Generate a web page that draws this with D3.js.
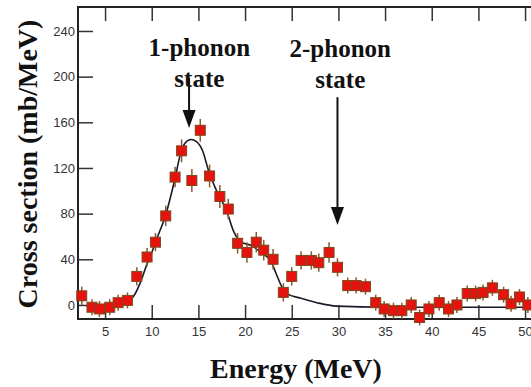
<!DOCTYPE html>
<html>
<head>
<meta charset="utf-8">
<script src="https://cdn.jsdelivr.net/npm/d3@7"></script>
<style>
  html, body { margin: 0; padding: 0; background: #fff; }
  svg { display: block; }
</style>
</head>
<body>
<svg id="chart" width="531" height="387"></svg>
<script>
// ---- data ----
const energies = [2.5, 3.6, 4.4, 5.5, 6.4, 7.4, 8.4, 9.5, 10.4, 11.5, 12.5, 13.2, 14.3, 15.2, 16.2, 17.3, 18.2, 19.2, 20.2, 21.2, 22.0, 23.0, 24.1, 25.0, 26.0, 27.1, 27.9, 29.0, 29.9, 31.0, 31.9, 32.9, 34.0, 34.9, 35.9, 36.8, 37.8, 38.7, 39.7, 40.8, 41.8, 42.7, 43.8, 44.7, 45.5, 46.5, 47.7, 48.5, 49.4, 50.3];
const crossSection = [8, -2, -3.5, -2, 2, 4, 25, 42, 55, 78, 112, 135, 109, 153, 113, 95, 84, 54, 46, 55, 48, 40, 11, 25, 39, 39, 37, 46, 33, 17, 17, 16, 2, -3.5, -5, -5, 0, -11, -3.5, 2, -3.5, 0, 10, 10, 11, 15, 9, 1, 7, 0];
const errors = [8, 7, 7, 7, 7, 7, 8, 8, 8, 9, 9, 10, 10, 10, 10, 10, 9, 9, 9, 9, 9, 9, 8, 8, 8, 8, 8, 9, 8, 7, 7, 7, 7, 7, 7, 7, 7, 7, 7, 7, 7, 7, 7, 7, 7, 7, 7, 7, 7, 7];

const fitEnergies = [3.0, 5.0, 6.5, 7.5, 8.0, 8.8, 9.5, 10.1, 10.4, 11.5, 12.5, 13.1, 13.6, 14.2, 14.8, 15.5, 16.0, 17.0, 18.0, 18.8, 19.6, 20.7, 21.7, 22.8, 23.3, 24.0, 24.5, 25.9, 27.7, 29.8, 35.0, 40.0, 45.0, 50.0, 51.0];
const fitValues   = [-1, -1, 1, 4, 7, 20, 36, 48, 55, 79, 111, 133, 142, 145, 143, 134, 120, 99, 83, 64, 55, 52, 46, 38, 28, 15, 10, 6, 2, -1, -2, -2, -2, -2, -2];

const xTicks = [5, 10, 15, 20, 25, 30, 35, 40, 45, 50];
const yTicks = [0, 40, 80, 120, 160, 200, 240];

const annotations = [
  { lines: ["1-phonon", "state"], textE: 15.1, lineTop: [218, 191], arrowE: 14.0, arrowFrom: 199, arrowTo: 155 },
  { lines: ["2-phonon", "state"], textE: 30.2, lineTop: [217, 190], arrowE: 29.9, arrowFrom: 182, arrowTo: 70 }
];

// ---- layout ----
const svg = d3.select("#chart");
const mLeft = 78, mRight = 531.6, mTop = 7, mBottom = 319;
const x = d3.scaleLinear().domain([2.1, 50.7]).range([mLeft, mRight]);
const y = d3.scaleLinear().domain([-12.3, 261]).range([mBottom, mTop]);

const ink = "#222";

// bottom axis
const gx = svg.append("g").attr("transform", `translate(0,${mBottom})`)
  .call(d3.axisBottom(x).tickValues(xTicks).tickSize(-14).tickPadding(8).tickFormat(d3.format("d")));
gx.select(".domain").remove();
gx.selectAll(".tick line").attr("stroke", "#333").attr("stroke-width", 1.5);
gx.selectAll(".tick text").attr("font-family", "Liberation Sans, Arial, sans-serif").attr("font-size", 13).attr("fill", "#333");

// top axis (ticks only)
const gt = svg.append("g").attr("transform", `translate(0,${mTop})`)
  .call(d3.axisTop(x).tickValues(xTicks).tickSize(-14).tickFormat(""));
gt.select(".domain").remove();
gt.selectAll(".tick line").attr("stroke", "#333").attr("stroke-width", 1.5);

// left axis
const gy = svg.append("g").attr("transform", `translate(${mLeft},0)`)
  .call(d3.axisLeft(y).tickValues(yTicks).tickSize(-15).tickPadding(3));
gy.select(".domain").remove();
gy.selectAll(".tick line").attr("stroke", "#333").attr("stroke-width", 1.5);
gy.selectAll(".tick text").attr("font-family", "Liberation Sans, Arial, sans-serif").attr("font-size", 13).attr("fill", "#333");

// frame
svg.append("path")
  .attr("d", `M${mRight},${mTop}H${mLeft}V${mBottom}H${mRight}`)
  .attr("fill", "none").attr("stroke", ink).attr("stroke-width", 2);

// fit curve
const line = d3.line().x(d => x(d[0])).y(d => y(d[1])).curve(d3.curveMonotoneX);
svg.append("path")
  .datum(fitEnergies.map((e, i) => [e, fitValues[i]]))
  .attr("d", line)
  .attr("fill", "none").attr("stroke", "#1a1a2a").attr("stroke-width", 1.6);

// data points
const pts = energies.map((e, i) => ({ e, v: crossSection[i], err: errors[i] }));
const gp = svg.append("g");
gp.selectAll("line.err").data(pts).join("line").attr("class", "err")
  .attr("x1", d => x(d.e)).attr("x2", d => x(d.e))
  .attr("y1", d => y(d.v + d.err)).attr("y2", d => y(d.v - d.err))
  .attr("stroke", "#8a5a2a").attr("stroke-width", 1.5);
const s = 10;
gp.selectAll("rect.pt").data(pts).join("rect").attr("class", "pt")
  .attr("x", d => x(d.e) - s / 2).attr("y", d => y(d.v) - s / 2)
  .attr("width", s).attr("height", s)
  .attr("fill", "#e5120e").attr("stroke", "#7a4a20").attr("stroke-width", 1);

// annotations
const serif = "Liberation Serif, Times New Roman, serif";
annotations.forEach(a => {
  a.lines.forEach((t, i) => {
    svg.append("text")
      .attr("x", x(a.textE)).attr("y", y(a.lineTop[i]))
      .attr("text-anchor", "middle")
      .attr("font-family", serif).attr("font-weight", "bold").attr("font-size", 25)
      .attr("fill", "#111").text(t);
  });
  const ax = x(a.arrowE), y0 = y(a.arrowFrom), y1 = y(a.arrowTo);
  svg.append("line").attr("x1", ax).attr("x2", ax).attr("y1", y0).attr("y2", y1 - 16)
    .attr("stroke", "#111").attr("stroke-width", 2);
  svg.append("path")
    .attr("d", `M${ax - 6.5},${y1 - 18}L${ax + 6.5},${y1 - 18}L${ax},${y1}Z`)
    .attr("fill", "#111");
});

// axis titles
svg.append("text")
  .attr("transform", "translate(37,164) rotate(-90)")
  .attr("text-anchor", "middle")
  .attr("font-family", serif).attr("font-weight", "bold").attr("font-size", 28)
  .attr("fill", "#111").text("Cross section (mb/MeV)");
svg.append("text")
  .attr("x", 296).attr("y", 378)
  .attr("text-anchor", "middle")
  .attr("font-family", serif).attr("font-weight", "bold").attr("font-size", 28)
  .attr("fill", "#111").text("Energy (MeV)");
</script>
</body>
</html>
